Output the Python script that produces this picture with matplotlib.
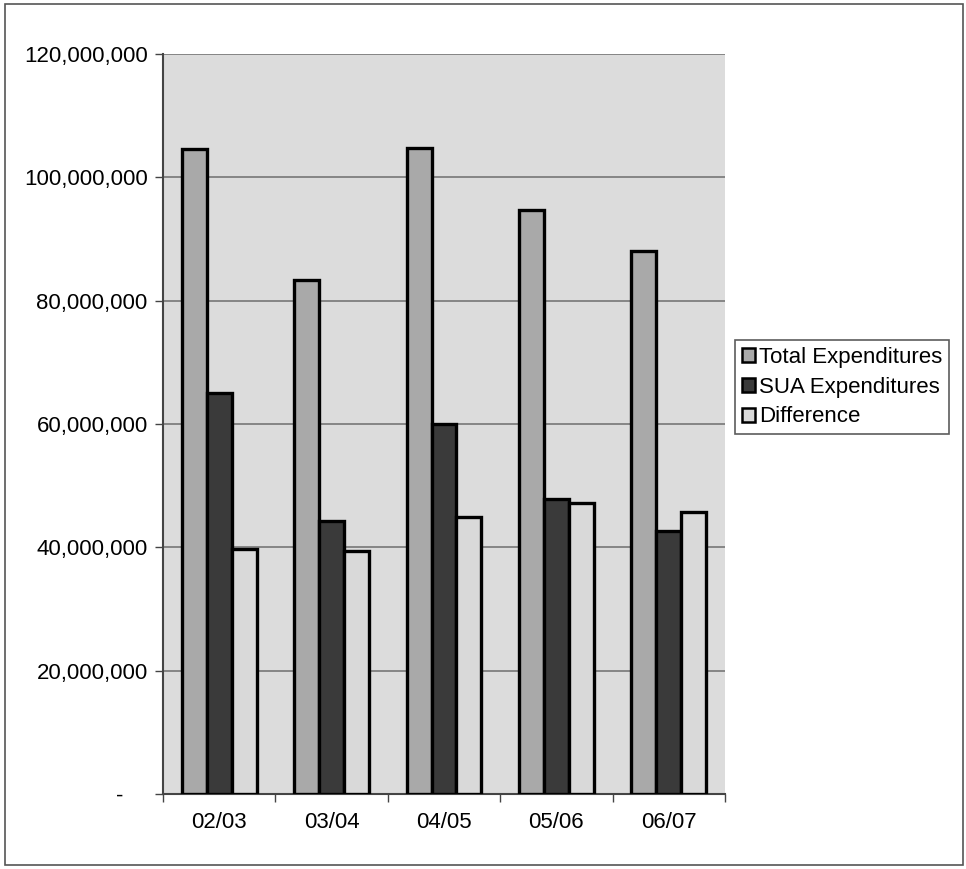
import matplotlib.pyplot as plt
import numpy as np
from matplotlib.patches import Rectangle
from matplotlib.ticker import FuncFormatter

# Dados (valores lidos em unidades monetárias)
anos = ['02/03', '03/04', '04/05', '05/06', '06/07']
total_despesas = [104.6e6, 83.4e6, 104.8e6, 94.7e6, 88.0e6]
despesas_sua = [65.0e6, 44.3e6, 60.0e6, 47.8e6, 42.7e6]
diferenca = [39.8e6, 39.4e6, 45.0e6, 47.2e6, 45.8e6]
rotulos = ['Total Expenditures', 'SUA Expenditures', 'Difference']

plt.rcParams['font.family'] = ['Liberation Sans', 'DejaVu Sans']

fig = plt.figure(figsize=(9.66, 8.69), dpi=100)
ax = fig.add_axes([163 / 966, 1 - 794 / 869, 562 / 966, 740 / 869])
ax.set_facecolor('#dcdcdc')

# Moldura externa do gráfico
fig.patches.append(Rectangle((5 / 966, 4 / 869), 958 / 966, 861 / 869,
                             transform=fig.transFigure, fill=False,
                             edgecolor='#555555', linewidth=1.2))

# Barras agrupadas (largura do intervalo 150%)
x = np.arange(len(anos))
largura = 1 / 4.5
cores = ['#a9a9a9', '#3a3a3a', '#d9d9d9']
series = [total_despesas, despesas_sua, diferenca]
for i, (valores, cor, rotulo) in enumerate(zip(series, cores, rotulos)):
    ax.bar(x + (i - 1) * largura, valores, largura, color=cor,
           edgecolor='black', linewidth=2.4, label=rotulo, zorder=3)

ax.set_xlim(-0.5, len(anos) - 0.5)
ax.set_ylim(0, 120e6)
ax.set_yticks(np.arange(0, 120e6 + 1, 20e6))
# formato contábil: zero aparece como traço
ax.yaxis.set_major_formatter(FuncFormatter(lambda v, p: '-    ' if v == 0 else f'{v:,.0f}'))
ax.grid(axis='y', color='#777777', linewidth=1.2, zorder=1)

# Marcas do eixo x entre as categorias
ax.set_xticks(x)
ax.set_xticklabels(anos)
ax.set_xticks(np.arange(-0.5, len(anos)), minor=True)
ax.tick_params(axis='x', which='major', length=0, pad=13, labelsize=16)
ax.tick_params(axis='x', which='minor', length=6, width=1, color='#444444', direction='out')
ax.tick_params(axis='y', length=6, width=1, color='#444444', labelsize=16, pad=5)

for lado in ['top', 'right']:
    ax.spines[lado].set_visible(False)
for lado in ['left', 'bottom']:
    ax.spines[lado].set_color('#444444')
    ax.spines[lado].set_linewidth(1.5)

leg = fig.legend(loc='upper left', bbox_to_anchor=(735 / 966, 1 - 340 / 869),
                 bbox_transform=fig.transFigure, borderaxespad=0,
                 fontsize=16, frameon=True, fancybox=False,
                 handlelength=0.6, handleheight=0.6, handletextpad=0.2,
                 labelspacing=0.4, borderpad=0.3)
leg.get_frame().set_edgecolor('#333333')
leg.get_frame().set_linewidth(1.2)
for h in leg.legend_handles:
    h.set_linewidth(1.8)

fig.savefig('out.png', dpi=100)
